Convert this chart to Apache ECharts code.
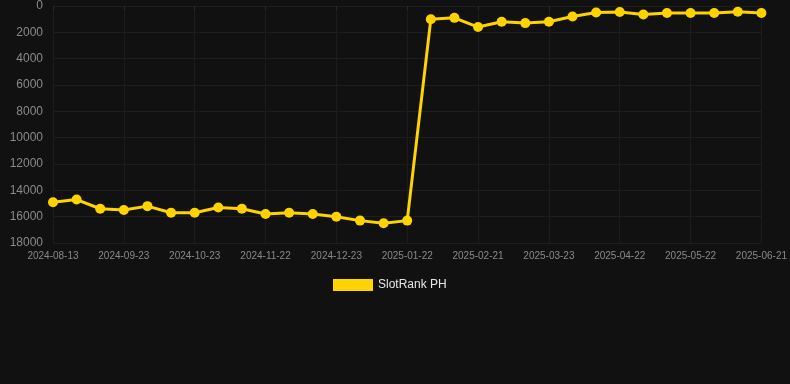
<!DOCTYPE html>
<html>
<head>
<meta charset="utf-8">
<script src="https://cdn.jsdelivr.net/npm/echarts@6/dist/echarts.min.js"></script>
<style>
html,body{margin:0;padding:0;background:#111111;}
#chart{width:790px;height:384px;}
</style>
</head>
<body>
<div id="chart"></div>
<script>
const categories = [
  "2024-08-13","2024-09-03","2024-09-13","2024-09-23","2024-10-03","2024-10-13","2024-10-23",
  "2024-11-02","2024-11-12","2024-11-22","2024-12-02","2024-12-13","2024-12-23","2025-01-02",
  "2025-01-12","2025-01-22","2025-02-01","2025-02-11","2025-02-21","2025-03-03","2025-03-13",
  "2025-03-23","2025-04-02","2025-04-12","2025-04-22","2025-05-02","2025-05-12","2025-05-22",
  "2025-06-01","2025-06-11","2025-06-21"
];
const rankPH = [
  14900,14700,15400,15500,15200,15700,15700,15300,15400,15800,15700,15800,16000,16300,
  16500,16300,1000,900,1600,1200,1300,1200,800,500,450,650,530,530,530,430,530
];
const seriesName = "SlotRank PH";

const chart = echarts.init(document.getElementById('chart'));
chart.setOption({
  backgroundColor: '#111111',
  animation: false,
  grid: { left: 53, right: 28, top: 6, bottom: 141 },
  legend: {
    data: [seriesName],
    top: 274,
    left: 328,
    itemWidth: 40,
    itemHeight: 12,
    icon: 'rect',
    textStyle: { color: '#e6e6e6', fontSize: 12, fontFamily: 'Arial, Liberation Sans, sans-serif' }
  },
  xAxis: {
    type: 'category',
    data: categories,
    boundaryGap: false,
    axisLine: { show: false },
    axisTick: { show: true, interval: 2, length: 4, lineStyle: { color: '#2a2a2a' } },
    axisLabel: { interval: 2, color: '#8a8a8a', fontSize: 10, margin: 8, fontFamily: 'Arial, Liberation Sans, sans-serif' },
    splitLine: { show: true, interval: 2, lineStyle: { color: '#1c1c1c' } }
  },
  yAxis: {
    type: 'value',
    inverse: true,
    min: 0,
    max: 18000,
    interval: 2000,
    axisLine: { show: false },
    axisTick: { show: false },
    axisLabel: { color: '#8a8a8a', fontSize: 12, margin: 10, formatter: v => String(v), fontFamily: 'Arial, Liberation Sans, sans-serif' },
    splitLine: { lineStyle: { color: '#1e1e1e' } }
  },
  series: [{
    name: seriesName,
    type: 'line',
    data: rankPH,
    symbol: 'circle',
    symbolSize: 10,
    itemStyle: { color: '#FFD300' },
    lineStyle: { color: '#FFD300', width: 3 }
  }]
});
</script>
</body>
</html>
